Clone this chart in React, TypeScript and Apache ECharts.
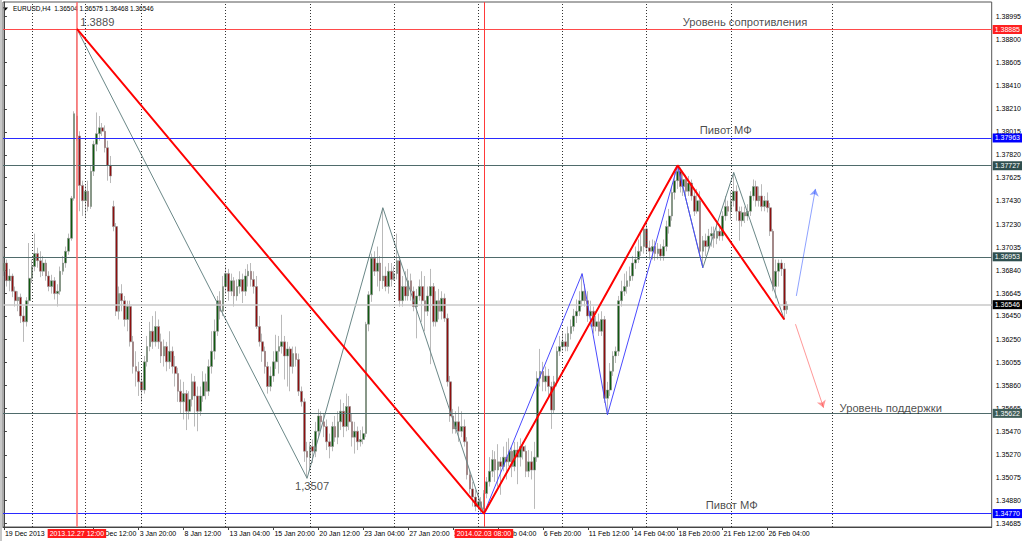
import React, { useEffect, useRef } from "react";
import * as echarts from "echarts";

// H4 bars, index 0 = 19 Dec 2013 08:00 ... index 279 = 27 Feb 2014 08:00
// each row: [open, close, low, high]
const candles: number[][] = [
  [1.3683,1.3690,1.3679,1.3696],[1.3690,1.3675,1.3670,1.3693],[1.3675,1.3679,1.3666,1.3685],[1.3679,1.3666,1.3661,1.3681],
  [1.3666,1.3658,1.3653,1.3670],[1.3658,1.3661,1.3649,1.3666],[1.3661,1.3645,1.3639,1.3664],[1.3645,1.3640,1.3623,1.3653],
  [1.3640,1.3658,1.3636,1.3661],[1.3658,1.3677,1.3655,1.3707],[1.3677,1.3687,1.3673,1.3693],[1.3687,1.3698,1.3683,1.3715],
  [1.3698,1.3692,1.3686,1.3703],[1.3692,1.3683,1.3678,1.3700],[1.3683,1.3690,1.3679,1.3696],[1.3690,1.3679,1.3675,1.3693],
  [1.3679,1.3670,1.3666,1.3683],[1.3670,1.3675,1.3664,1.3680],[1.3675,1.3664,1.3659,1.3678],[1.3664,1.3666,1.3653,1.3672],
  [1.3666,1.3683,1.3663,1.3687],[1.3683,1.3690,1.3680,1.3696],[1.3690,1.3700,1.3686,1.3704],[1.3700,1.3711,1.3697,1.3715],
  [1.3711,1.3745,1.3709,1.3747],[1.3745,1.3817,1.3743,1.3819],[1.3815,1.3798,1.3794,1.3889],[1.3798,1.3756,1.3734,1.3802],
  [1.3756,1.3743,1.3730,1.3760],[1.3743,1.3751,1.3728,1.3756],[1.3751,1.3738,1.3734,1.3760],[1.3738,1.3768,1.3736,1.3773],
  [1.3768,1.3791,1.3764,1.3794],[1.3791,1.3800,1.3785,1.3818],[1.3800,1.3805,1.3794,1.3815],[1.3805,1.3802,1.3798,1.3809],
  [1.3802,1.3788,1.3784,1.3807],[1.3788,1.3773,1.3760,1.3794],[1.3773,1.3764,1.3758,1.3781],[1.3738,1.3721,1.3717,1.3743],
  [1.3721,1.3649,1.3645,1.3724],[1.3649,1.3664,1.3642,1.3670],[1.3664,1.3658,1.3649,1.3672],[1.3658,1.3642,1.3636,1.3662],
  [1.3642,1.3653,1.3632,1.3658],[1.3653,1.3623,1.3619,1.3658],[1.3623,1.3602,1.3596,1.3628],[1.3602,1.3598,1.3585,1.3615],
  [1.3598,1.3589,1.3577,1.3606],[1.3589,1.3582,1.3572,1.3596],[1.3582,1.3606,1.3579,1.3611],[1.3606,1.3619,1.3602,1.3628],
  [1.3619,1.3632,1.3615,1.3640],[1.3632,1.3623,1.3617,1.3645],[1.3623,1.3636,1.3619,1.3649],[1.3636,1.3623,1.3617,1.3642],
  [1.3623,1.3611,1.3605,1.3630],[1.3611,1.3619,1.3602,1.3625],[1.3619,1.3606,1.3598,1.3623],[1.3606,1.3615,1.3600,1.3632],
  [1.3615,1.3602,1.3596,1.3619],[1.3602,1.3596,1.3585,1.3611],[1.3596,1.3581,1.3572,1.3601],[1.3581,1.3572,1.3562,1.3591],
  [1.3572,1.3579,1.3557,1.3589],[1.3579,1.3564,1.3548,1.3582],[1.3564,1.3574,1.3557,1.3581],[1.3574,1.3589,1.3568,1.3596],
  [1.3589,1.3577,1.3551,1.3594],[1.3577,1.3564,1.3547,1.3585],[1.3564,1.3577,1.3560,1.3585],[1.3577,1.3589,1.3572,1.3598],
  [1.3589,1.3581,1.3574,1.3596],[1.3581,1.3602,1.3577,1.3608],[1.3602,1.3615,1.3596,1.3632],[1.3615,1.3632,1.3608,1.3642],
  [1.3632,1.3658,1.3628,1.3662],[1.3658,1.3649,1.3642,1.3666],[1.3649,1.3670,1.3645,1.3679],[1.3670,1.3681,1.3664,1.3687],
  [1.3681,1.3666,1.3658,1.3685],[1.3666,1.3675,1.3662,1.3681],[1.3675,1.3662,1.3653,1.3678],[1.3662,1.3670,1.3658,1.3676],
  [1.3670,1.3676,1.3664,1.3683],[1.3676,1.3666,1.3656,1.3681],[1.3666,1.3679,1.3662,1.3685],[1.3679,1.3683,1.3670,1.3689],
  [1.3683,1.3676,1.3670,1.3690],[1.3676,1.3670,1.3664,1.3683],[1.3670,1.3636,1.3634,1.3679],[1.3636,1.3623,1.3619,1.3645],
  [1.3623,1.3615,1.3606,1.3630],[1.3615,1.3602,1.3596,1.3619],[1.3602,1.3585,1.3579,1.3606],[1.3585,1.3594,1.3581,1.3602],
  [1.3594,1.3606,1.3589,1.3615],[1.3606,1.3615,1.3600,1.3629],[1.3615,1.3619,1.3596,1.3628],[1.3619,1.3623,1.3613,1.3646],
  [1.3623,1.3611,1.3591,1.3628],[1.3611,1.3617,1.3585,1.3623],[1.3617,1.3602,1.3581,1.3619],[1.3602,1.3613,1.3596,1.3619],
  [1.3613,1.3608,1.3602,1.3619],[1.3608,1.3581,1.3577,1.3613],[1.3581,1.3572,1.3568,1.3585],[1.3572,1.3530,1.3521,1.3575],
  [1.3530,1.3525,1.3507,1.3538],[1.3525,1.3534,1.3513,1.3538],[1.3534,1.3530,1.3520,1.3540],[1.3530,1.3547,1.3525,1.3555],
  [1.3547,1.3560,1.3542,1.3566],[1.3560,1.3555,1.3548,1.3564],[1.3555,1.3551,1.3542,1.3562],[1.3551,1.3538,1.3531,1.3557],
  [1.3538,1.3534,1.3524,1.3545],[1.3534,1.3551,1.3530,1.3555],[1.3551,1.3542,1.3538,1.3560],[1.3542,1.3555,1.3536,1.3564],
  [1.3555,1.3564,1.3548,1.3574],[1.3564,1.3551,1.3542,1.3571],[1.3551,1.3568,1.3547,1.3579],[1.3568,1.3555,1.3548,1.3577],
  [1.3555,1.3542,1.3534,1.3562],[1.3542,1.3547,1.3528,1.3555],[1.3547,1.3538,1.3531,1.3551],[1.3538,1.3540,1.3534,1.3548],
  [1.3540,1.3545,1.3536,1.3551],[1.3545,1.3638,1.3542,1.3640],[1.3638,1.3663,1.3632,1.3666],[1.3663,1.3694,1.3657,1.3698],
  [1.3694,1.3683,1.3679,1.3700],[1.3683,1.3690,1.3670,1.3704],[1.3690,1.3675,1.3666,1.3696],[1.3675,1.3679,1.3668,1.3737],
  [1.3679,1.3670,1.3666,1.3687],[1.3670,1.3683,1.3664,1.3690],[1.3683,1.3676,1.3670,1.3690],[1.3676,1.3681,1.3675,1.3687],
  [1.3681,1.3692,1.3676,1.3715],[1.3692,1.3658,1.3653,1.3696],[1.3658,1.3670,1.3653,1.3679],[1.3670,1.3662,1.3658,1.3683],
  [1.3662,1.3675,1.3658,1.3685],[1.3675,1.3666,1.3658,1.3681],[1.3666,1.3653,1.3649,1.3670],[1.3653,1.3662,1.3626,1.3668],
  [1.3662,1.3670,1.3658,1.3676],[1.3670,1.3658,1.3640,1.3683],[1.3658,1.3649,1.3632,1.3679],[1.3649,1.3662,1.3645,1.3670],
  [1.3662,1.3670,1.3604,1.3685],[1.3670,1.3640,1.3636,1.3673],[1.3640,1.3658,1.3636,1.3666],[1.3658,1.3649,1.3642,1.3668],
  [1.3649,1.3660,1.3642,1.3666],[1.3660,1.3643,1.3640,1.3664],[1.3643,1.3589,1.3585,1.3647],[1.3589,1.3560,1.3555,1.3594],
  [1.3560,1.3549,1.3545,1.3566],[1.3549,1.3555,1.3545,1.3564],[1.3555,1.3547,1.3538,1.3568],[1.3547,1.3551,1.3542,1.3564],
  [1.3551,1.3538,1.3534,1.3557],[1.3538,1.3510,1.3506,1.3542],[1.3510,1.3498,1.3494,1.3514],[1.3498,1.3491,1.3483,1.3504],
  [1.3491,1.3483,1.3479,1.3497],[1.3483,1.3487,1.3480,1.3496],[1.3487,1.3481,1.3477,1.3491],[1.3481,1.3494,1.3477,1.3497],
  [1.3494,1.3504,1.3490,1.3508],[1.3504,1.3513,1.3500,1.3525],[1.3513,1.3523,1.3508,1.3531],[1.3523,1.3514,1.3504,1.3530],
  [1.3514,1.3521,1.3500,1.3536],[1.3521,1.3517,1.3493,1.3525],[1.3517,1.3525,1.3513,1.3534],[1.3525,1.3521,1.3506,1.3538],
  [1.3521,1.3530,1.3517,1.3541],[1.3530,1.3517,1.3508,1.3534],[1.3517,1.3531,1.3513,1.3538],[1.3531,1.3525,1.3502,1.3538],
  [1.3525,1.3534,1.3517,1.3541],[1.3534,1.3530,1.3523,1.3538],[1.3530,1.3513,1.3508,1.3535],[1.3513,1.3521,1.3508,1.3531],
  [1.3521,1.3514,1.3506,1.3530],[1.3514,1.3525,1.3481,1.3538],[1.3525,1.3592,1.3521,1.3598],[1.3592,1.3598,1.3585,1.3617],
  [1.3598,1.3589,1.3581,1.3606],[1.3589,1.3594,1.3581,1.3602],[1.3594,1.3585,1.3577,1.3600],[1.3585,1.3565,1.3549,1.3589],
  [1.3565,1.3589,1.3562,1.3594],[1.3589,1.3615,1.3585,1.3619],[1.3615,1.3619,1.3611,1.3628],[1.3619,1.3623,1.3615,1.3632],
  [1.3623,1.3619,1.3615,1.3630],[1.3619,1.3630,1.3615,1.3636],[1.3630,1.3636,1.3625,1.3642],[1.3636,1.3645,1.3632,1.3651],
  [1.3645,1.3649,1.3639,1.3659],[1.3649,1.3658,1.3645,1.3666],[1.3658,1.3666,1.3653,1.3681],[1.3666,1.3658,1.3653,1.3672],
  [1.3658,1.3645,1.3640,1.3666],[1.3645,1.3649,1.3636,1.3658],[1.3649,1.3636,1.3630,1.3653],[1.3636,1.3640,1.3632,1.3645],
  [1.3640,1.3632,1.3628,1.3647],[1.3632,1.3642,1.3628,1.3649],[1.3642,1.3575,1.3571,1.3645],[1.3575,1.3582,1.3561,1.3589],
  [1.3582,1.3598,1.3577,1.3605],[1.3598,1.3611,1.3594,1.3615],[1.3611,1.3615,1.3605,1.3619],[1.3615,1.3658,1.3611,1.3662],
  [1.3658,1.3666,1.3653,1.3675],[1.3666,1.3670,1.3662,1.3681],[1.3670,1.3675,1.3664,1.3683],[1.3675,1.3679,1.3670,1.3687],
  [1.3679,1.3690,1.3675,1.3696],[1.3690,1.3693,1.3685,1.3704],[1.3693,1.3700,1.3690,1.3710],[1.3700,1.3704,1.3696,1.3717],
  [1.3704,1.3719,1.3698,1.3721],[1.3719,1.3703,1.3698,1.3724],[1.3703,1.3700,1.3693,1.3709],[1.3700,1.3704,1.3693,1.3710],
  [1.3704,1.3698,1.3692,1.3709],[1.3698,1.3702,1.3693,1.3707],[1.3702,1.3696,1.3692,1.3706],[1.3696,1.3704,1.3692,1.3710],
  [1.3704,1.3721,1.3700,1.3726],[1.3721,1.3730,1.3715,1.3736],[1.3730,1.3750,1.3726,1.3755],[1.3750,1.3760,1.3744,1.3768],
  [1.3760,1.3768,1.3753,1.3773],[1.3768,1.3755,1.3750,1.3771],[1.3755,1.3761,1.3747,1.3767],[1.3761,1.3751,1.3745,1.3765],
  [1.3751,1.3758,1.3747,1.3764],[1.3758,1.3747,1.3743,1.3761],[1.3747,1.3734,1.3730,1.3751],[1.3734,1.3743,1.3732,1.3753],
  [1.3743,1.3700,1.3696,1.3751],[1.3700,1.3709,1.3686,1.3713],[1.3709,1.3704,1.3696,1.3715],[1.3704,1.3713,1.3700,1.3719],
  [1.3713,1.3715,1.3704,1.3721],[1.3715,1.3711,1.3703,1.3721],[1.3711,1.3717,1.3706,1.3724],[1.3717,1.3713,1.3709,1.3723],
  [1.3713,1.3730,1.3709,1.3734],[1.3730,1.3738,1.3726,1.3747],[1.3738,1.3734,1.3730,1.3743],[1.3734,1.3743,1.3727,1.3751],
  [1.3743,1.3751,1.3738,1.3767],[1.3751,1.3734,1.3726,1.3756],[1.3734,1.3726,1.3709,1.3738],[1.3726,1.3733,1.3721,1.3738],
  [1.3733,1.3730,1.3724,1.3738],[1.3730,1.3734,1.3726,1.3740],[1.3734,1.3747,1.3730,1.3751],[1.3747,1.3755,1.3743,1.3761],
  [1.3755,1.3743,1.3738,1.3760],[1.3743,1.3747,1.3738,1.3755],[1.3747,1.3738,1.3734,1.3757],[1.3738,1.3743,1.3734,1.3747],
  [1.3743,1.3737,1.3733,1.3750],[1.3737,1.3717,1.3713,1.3741],[1.3717,1.3670,1.3666,1.3719],[1.3670,1.3683,1.3660,1.3693],
  [1.3683,1.3690,1.3670,1.3693],[1.3690,1.3685,1.3679,1.3693],[1.3685,1.3650,1.3642,1.3690],[1.36504,1.36546,1.36468,1.36575],
];

const priceTicks = [
  1.38995, 1.388, 1.38605, 1.3841, 1.3821, 1.38015, 1.3782, 1.37625, 1.3743, 1.3723, 1.37035, 1.3684,
  1.36645, 1.3645, 1.3625, 1.36055, 1.3586, 1.35665, 1.3547, 1.3527, 1.35075, 1.3488, 1.34685,
];

const timeTickIndex = [0, 32, 48, 64, 80, 96, 112, 128, 144, 160, 176, 192, 208, 224, 240, 256, 272];
const timeTickText = [
  "19 Dec 2013", "30 Dec 12:00", "3 Jan 20:00", "8 Jan 12:00", "13 Jan 04:00", "15 Jan 20:00",
  "20 Jan 12:00", "23 Jan 04:00", "27 Jan 20:00", "30 Jan 12:00", "4 Feb 04:00", "6 Feb 20:00",
  "11 Feb 12:00", "14 Feb 04:00", "18 Feb 20:00", "21 Feb 12:00", "26 Feb 04:00",
];

// period separators (week starts)
const weekStartIndex = [10, 29, 49, 79, 109, 139, 169, 199, 229, 259, 295];

// zigzag vertices [bar index, price]
const grayZigzag = [[26, 1.3889], [108, 1.3507], [135, 1.3737], [171, 1.3477], [240, 1.3773], [249, 1.3686], [260, 1.3767], [278, 1.3642]];
const blueZigzag = [[171, 1.3477], [206, 1.3681], [215, 1.3561], [240, 1.3773], [249, 1.3686]];
const redZigzag = [[26, 1.3889], [171, 1.3477], [240, 1.3773], [278, 1.3642]];

// forecast arrows [[from], [to]]
const upArrow = [[282.3, 1.3662], [289.1, 1.3753]];
const downArrow = [[282.0, 1.3638], [292.0, 1.3567]];

// horizontal levels
const levelPrices = [1.38885, 1.37963, 1.37727, 1.36953, 1.36546, 1.35622, 1.3477];
// vertical markers
const markerIndex = [26, 171];
const markerText = ["2013.12.27 12:00", "2014.02.03 08:00"];

// text objects anchored at [bar index, price]
const noteAnchors = [[27.2, 1.38947], [103.7, 1.35004], [241.8, 1.38947], [247.9, 1.38031], [297.7, 1.35665], [250.0, 1.34843]];
const noteTexts = ["1.3889", "1,3507", "Уровень сопротивления", "Пивот МФ", "Уровень поддержки", "Пивот МФ"];

const headerText = "EURUSD,H4  1.36504 1.36575 1.36468 1.36546";

export default function App() {
  const ref = useRef<HTMLDivElement>(null);
  useEffect(() => {
    if (!ref.current) return;
    const chart = echarts.init(ref.current, null, { renderer: "svg" });
    const FONT = "Liberation Sans, Arial, sans-serif";
    const levelLine = ["#ff4a4a", "#2a2aff", "#4f6b6b", "#4f6b6b", "#c8c8c8", "#4f6b6b", "#2a2aff"];
    const levelTag = ["#ff2020", "#0000ff", "#2f4f4f", "#2f4f4f", "#000000", "#3e5c58", "#0000ff"];
    const tickMap: Record<string, string> = {};
    timeTickIndex.forEach((v, k) => (tickMap[String(v)] = timeTickText[k]));

    const option: any = {
      animation: false,
      backgroundColor: "#ffffff",
      grid: { left: 3, right: 32, top: 2, bottom: 14, show: true, borderColor: "#555", borderWidth: 1, backgroundColor: "#fff" },
      xAxis: {
        type: "value",
        min: -0.33,
        max: 351.9,
        axisLine: { show: true, onZero: false, lineStyle: { color: "#444", width: 1 } },
        axisTick: { show: true, customValues: timeTickIndex, length: 3, lineStyle: { color: "#444" } },
        axisLabel: {
          customValues: timeTickIndex,
          formatter: (v: number) => tickMap[String(v)] ?? "",
          align: "left",
          fontSize: 7,
          color: "#000",
          margin: 3,
          padding: [0, 0, 0, 1],
          fontFamily: FONT,
        },
        splitLine: { show: false },
      },
      yAxis: {
        type: "value",
        position: "right",
        min: 1.34656,
        max: 1.39119,
        axisLine: { show: true, lineStyle: { color: "#444", width: 1 } },
        axisTick: { show: true, customValues: priceTicks, length: 3, lineStyle: { color: "#444" } },
        axisLabel: {
          customValues: priceTicks,
          formatter: (v: number) => v.toFixed(5),
          fontSize: 7,
          color: "#000",
          margin: 4,
          fontFamily: FONT,
        },
        splitLine: { show: false },
      },
      series: [
        {
          type: "line",
          data: [],
          z: 1,
          silent: true,
          markLine: {
            silent: true,
            symbol: "none",
            precision: 5,
            label: { show: false },
            lineStyle: { color: "#333", type: [1, 2], width: 1 },
            data: weekStartIndex.map((v) => ({ xAxis: v })),
          },
        },
        {
          type: "candlestick",
          z: 2,
          data: candles.map((c, i) => [i, c[0], c[1], c[2], c[3]]),
          encode: { x: 0, y: [1, 2, 3, 4] },
          barWidth: 2.2,
          itemStyle: {
            color: "#0f5a0f",
            color0: "#8e0e0e",
            borderColor: "#8c8c8c",
            borderColor0: "#8c8c8c",
            borderWidth: 0.6,
          },
        },
        {
          type: "line",
          data: [],
          z: 3,
          silent: true,
          markLine: {
            silent: true,
            symbol: "none",
            precision: 5,
            data: [
              ...levelPrices.map((p, k) => ({
                yAxis: p,
                lineStyle: { color: levelLine[k], width: k === 4 ? 1.5 : 1, type: "solid" },
                label: {
                  show: true,
                  position: "end",
                  distance: 1,
                  formatter: p.toFixed(5),
                  backgroundColor: levelTag[k],
                  color: "#fff",
                  fontSize: 7,
                  fontFamily: FONT,
                  padding: [1, 2, 1, 2],
                },
              })),
              ...markerIndex.map((v, k) => ({
                xAxis: v,
                lineStyle: { color: k === 0 ? "#ff6a6a" : "#ff3a3a", width: k === 0 ? 1.5 : 1, type: "solid" },
                label: {
                  show: true,
                  position: "start",
                  distance: 2,
                  formatter: markerText[k],
                  backgroundColor: "#ff1a1a",
                  color: "#fff",
                  fontSize: 7,
                  fontFamily: FONT,
                  padding: [1, 2, 1, 2],
                },
              })),
            ],
          },
        },
        {
          type: "line",
          z: 4,
          data: grayZigzag,
          symbol: "none",
          silent: true,
          lineStyle: { color: "#6a8787", width: 1 },
        },
        {
          type: "line",
          z: 5,
          data: blueZigzag,
          symbol: "none",
          silent: true,
          lineStyle: { color: "#4a4aff", width: 1 },
        },
        {
          type: "line",
          z: 6,
          data: redZigzag,
          symbol: "none",
          silent: true,
          lineStyle: { color: "#ff0000", width: 2 },
        },
        {
          type: "lines",
          coordinateSystem: "cartesian2d",
          z: 6,
          silent: true,
          symbol: ["none", "arrow"],
          symbolSize: 7,
          data: [
            { coords: upArrow, lineStyle: { color: "#1e46ff", width: 1 } },
            { coords: downArrow, lineStyle: { color: "#ff3030", width: 1 } },
          ],
        },
        {
          type: "scatter",
          z: 7,
          silent: true,
          symbolSize: 0,
          data: noteAnchors.map((a, k) => [a[0], a[1], noteTexts[k]]),
          label: {
            show: true,
            position: "right",
            distance: 0,
            formatter: (p: any) => p.data[2],
            fontSize: 11.2,
            color: "#1a1a1a",
            fontFamily: FONT,
          },
        },
      ],
      graphic: [
        { type: "rect", left: 0, top: 0, shape: { width: 2, height: 541 }, style: { fill: "#c8c8c8" }, silent: true },
        { type: "polygon", shape: { points: [[3, 7.5], [8, 7.5], [5.5, 10.5]] }, style: { fill: "#000" }, silent: true },
        {
          type: "text",
          left: 13,
          top: 5,
          style: { text: headerText, fontSize: 6.5, fill: "#000", fontFamily: FONT },
          silent: true,
        },
      ],
    };
    chart.setOption(option);
    return () => chart.dispose();
  }, []);
  return <div ref={ref} style={{ position: "fixed", left: 0, top: 0, width: 1024, height: 541 }} />;
}
